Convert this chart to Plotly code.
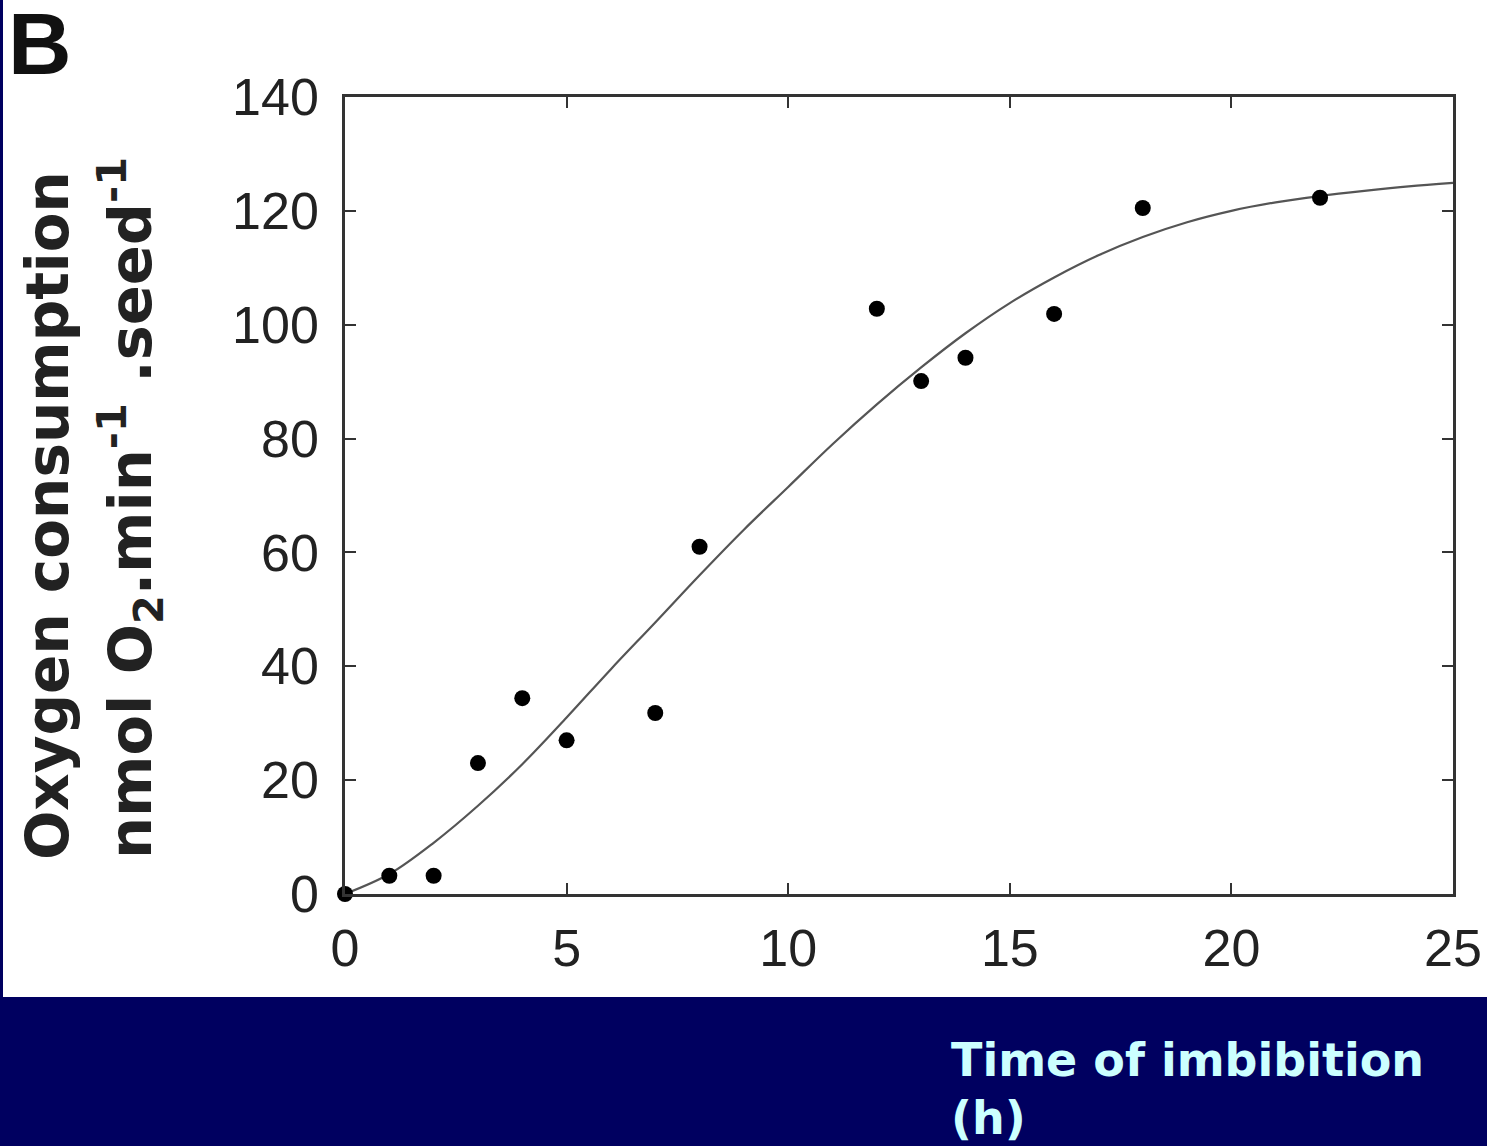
import plotly.graph_objects as go

# Measured data points (time of imbibition, h -> O2 consumption)
time_h = [0, 1, 2, 3, 4, 5, 7, 8, 12, 13, 14, 16, 18, 22]
o2_rate = [0, 3.2, 3.2, 23.0, 34.4, 27.0, 31.8, 61.0, 102.8, 90.1, 94.2, 101.9, 120.5, 122.3]

# Fitted curve
fit_time = [0, 1, 2, 3, 4, 5, 6, 7, 8, 9, 10, 11, 12, 13, 14, 15, 16, 17, 18, 19, 20, 21, 22, 23, 24, 25]
fit_rate = [0, 3.5, 9, 15.5, 22.8, 31, 39.5, 47.7, 56, 64, 71.5, 79, 86, 92.5, 98.5, 103.8,
            108.3, 112.2, 115.4, 118, 120, 121.5, 122.6, 123.5, 124.3, 124.9]

x_ticks = [0, 5, 10, 15, 20, 25]
y_ticks = [0, 20, 40, 60, 80, 100, 120, 140]

W, H = 1487, 1146
L, R, T, B = 345, 34, 97, 252
pw, ph = W - L - R, H - T - B

def px_x(p):
    return (p - L) / pw

def px_y(p):
    return (H - B - p) / ph

NAVY = "#000060"

fig = go.Figure()
fig.add_trace(go.Scatter(x=fit_time, y=fit_rate, mode="lines",
                         line=dict(color="#555555", width=2.2, shape="spline", smoothing=1.0),
                         showlegend=False, hoverinfo="skip"))
fig.add_trace(go.Scatter(x=time_h, y=o2_rate, mode="markers", marker=dict(color="black", size=16),
                         showlegend=False, cliponaxis=False))

axis_common = dict(showgrid=False, zeroline=False, showline=True, linecolor="#333333", linewidth=2.5,
                   mirror="allticks", ticks="inside", ticklen=11, tickwidth=2, tickcolor="#333333",
                   automargin=False,
                   tickfont=dict(family="Liberation Sans, Arial, sans-serif", size=52, color="#222222"))

title_font = dict(family="DejaVu Sans, sans-serif", size=58, color="#222222")
title_font2 = dict(family="DejaVu Sans, sans-serif", size=59, color="#222222")
x_title_font = dict(family="DejaVu Sans, sans-serif", size=46, color="#ccffff")

fig.update_layout(
    width=W, height=H,
    margin=dict(l=L, r=R, t=T, b=B, autoexpand=False),
    paper_bgcolor="white", plot_bgcolor="white",
    xaxis=dict(range=[0, 25], tickvals=x_ticks, ticktext=[str(v) for v in x_ticks], ticklabelstandoff=7, **axis_common),
    yaxis=dict(range=[0, 140], tickvals=y_ticks, ticktext=[str(v) for v in y_ticks], ticklabelstandoff=13, **axis_common),
    shapes=[
        dict(type="rect", xref="paper", yref="paper", x0=px_x(-5), x1=px_x(W + 5), y0=px_y(H + 5), y1=px_y(997),
             fillcolor=NAVY, line=dict(width=0), layer="above"),
        dict(type="rect", xref="paper", yref="paper", x0=px_x(-5), x1=px_x(3), y0=px_y(H + 5), y1=px_y(-5),
             fillcolor=NAVY, line=dict(width=0), layer="above"),
    ],
    annotations=[
        dict(text="<b>B</b>", xref="paper", yref="paper", x=px_x(40), y=px_y(43), xanchor="center", yanchor="middle",
             showarrow=False, font=dict(family="Liberation Sans, Arial, sans-serif", size=88, color="#111111")),
        dict(text="<b>Oxygen consumption</b>", xref="paper", yref="paper", x=px_x(48), y=px_y(516), textangle=-90,
             xanchor="center", yanchor="middle", showarrow=False, font=title_font),
        dict(text="<b>nmol O<sub>2</sub>.min<sup>-1</sup> .seed<sup>-1</sup></b>", xref="paper", yref="paper",
             x=px_x(130), y=px_y(508), textangle=-90,
             xanchor="center", yanchor="middle", showarrow=False, font=title_font2),
        dict(text="<b>Time of imbibition</b>", xref="paper", yref="paper", x=px_x(949), y=px_y(1060),
             xanchor="left", yanchor="middle", align="left", showarrow=False, font=x_title_font),
        dict(text="<b>(h)</b>", xref="paper", yref="paper", x=px_x(949), y=px_y(1118),
             xanchor="left", yanchor="middle", align="left", showarrow=False, font=x_title_font),
    ],
)

fig.write_html("out.html", config={"displayModeBar": False},
               post_script="document.body.style.margin='0';document.body.style.overflow='hidden';"
                           "document.documentElement.style.overflow='hidden';")
